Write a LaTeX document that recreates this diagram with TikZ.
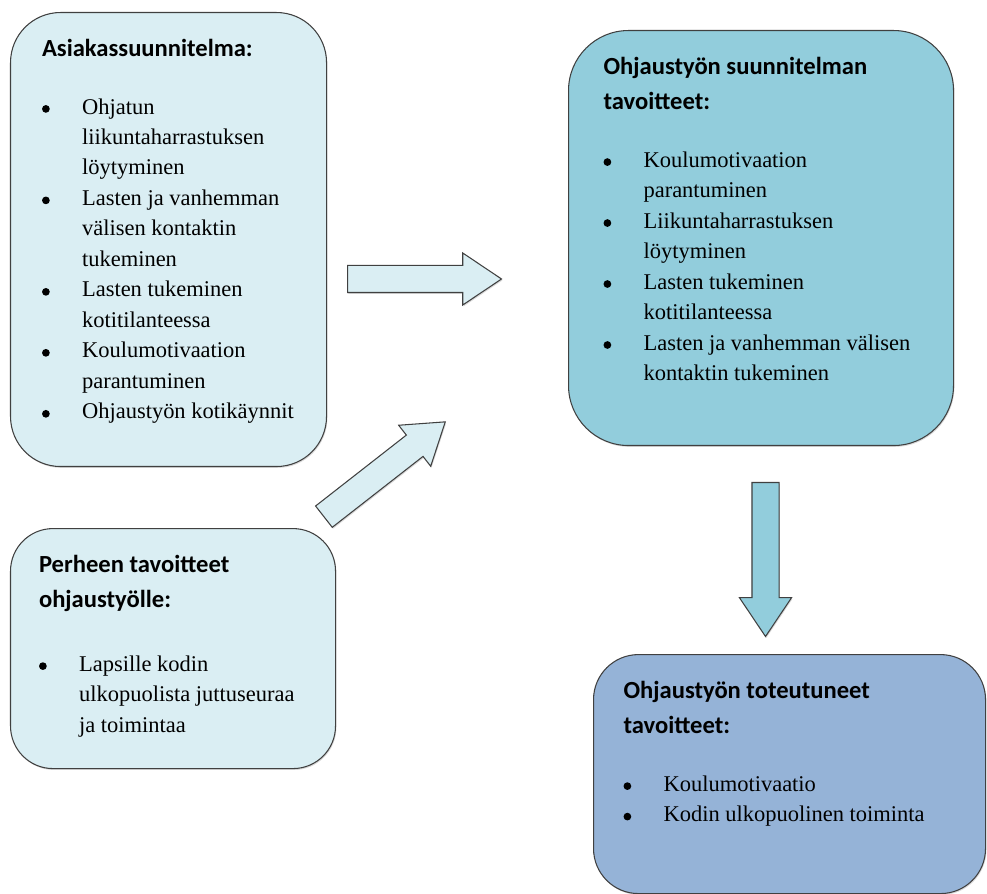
\documentclass[tikz,border=0pt]{standalone}
\usepackage{fontspec}
\setmainfont{Liberation Serif}
\newfontfamily\headfont{Carlito}
\usetikzlibrary{shapes.arrows, shadows, positioning}

\definecolor{paleaqua}{HTML}{DAEEF3}
\definecolor{midaqua}{HTML}{92CDDC}
\definecolor{softblue}{HTML}{95B3D7}
\definecolor{edgegray}{HTML}{404040}

\newcommand{\bodysize}{\fontsize{12.8}{17.35}\selectfont}
\newcommand{\paneltitle}[2][0.55cm]{%
  {\headfont\bfseries\fontsize{14}{20}\selectfont\rule{0pt}{0.87cm}#2\par}\vspace{#1}}
\newcommand{\dotmark}{\tikz[baseline=0pt]\fill (0,2.9pt) circle (2.2pt);}
\newcommand{\litem}[1]{\par\hangindent=0.8cm\hangafter=1\makebox[0.8cm][l]{\dotmark}#1}
\newcommand{\panelbody}[4]{% width, height, left pad, content
  \begin{minipage}[c][#2][t]{#1}\leftskip=#3\relax\rightskip=0pt plus 1fil\relax
    \parindent=0pt\bodysize
    #4\par\end{minipage}}

\begin{document}
\begin{tikzpicture}[
    panel/.style={draw=edgegray, line width=0.6pt, inner sep=0pt, anchor=north west,
      drop shadow={shadow xshift=0.5pt, shadow yshift=-0.8pt, opacity=0.3}},
    blockarrow/.style={single arrow, draw=edgegray, line width=0.6pt,
      inner xsep=0pt, inner ysep=0.26cm, minimum height=3.08cm,
      single arrow head extend=0.25cm, single arrow tip angle=67.7, anchor=tail,
      drop shadow={shadow xshift=0.5pt, shadow yshift=-0.8pt, opacity=0.3}}]

  \useasboundingbox (0,0) rectangle (19.74,-17.88);

  % left column
  \node[panel, fill=paleaqua, rounded corners=1cm] (asiakas) at (0.2,-0.24)
    {\panelbody{6.32cm}{9.08cm}{0.63cm}{%
      \paneltitle{Asiakassuunnitelma:}
      \litem{Ohjatun\newline liikuntaharrastuksen\newline löytyminen}
      \litem{Lasten ja vanhemman\newline välisen kontaktin\newline tukeminen}
      \litem{Lasten tukeminen\newline kotitilanteessa}
      \litem{Koulumotivaation\newline parantuminen}
      \litem{Ohjaustyön kotikäynnit}}};
  \node[panel, fill=paleaqua, rounded corners=0.85cm, below=1.22cm of asiakas.south west,
    anchor=north west] (perhe)
    {\panelbody{6.5cm}{4.8cm}{0.57cm}{%
      \paneltitle[0.67cm]{Perheen tavoitteet\\ ohjaustyölle:}
      \litem{Lapsille kodin\newline ulkopuolista juttuseuraa\newline ja toimintaa}}};

  % right column
  \node[panel, fill=midaqua, rounded corners=1.2cm] (suunn) at (11.36,-0.6)
    {\panelbody{7.7cm}{8.3cm}{0.7cm}{%
      \paneltitle{Ohjaustyön suunnitelman\\ tavoitteet:}
      \litem{Koulumotivaation\newline parantuminen}
      \litem{Liikuntaharrastuksen\newline löytyminen}
      \litem{Lasten tukeminen\newline kotitilanteessa}
      \litem{Lasten ja vanhemman välisen\newline kontaktin tukeminen}}};
  \node[panel, fill=softblue, rounded corners=0.9cm, below=4.16cm of suunn.south west,
    xshift=0.5cm, anchor=north west] (toteut)
    {\panelbody{7.84cm}{4.78cm}{0.6cm}{%
      \paneltitle{Ohjaustyön toteutuneet\\ tavoitteet:}
      \litem{Koulumotivaatio}
      \litem{Kodin ulkopuolinen toiminta}}};

  % block arrows
  \coordinate (planTail) at (6.94,-5.58);
  \coordinate (familyTail) at (6.47,-10.34);
  \coordinate (resultTail) at (15.31,-9.64);
  \node[blockarrow, fill=paleaqua] (planArrow) at (planTail) {};
  \node[blockarrow, fill=paleaqua, rotate=38] (familyArrow) at (familyTail) {};
  \node[blockarrow, fill=midaqua, rotate=-90] (resultArrow) at (resultTail) {};

\end{tikzpicture}
\end{document}
